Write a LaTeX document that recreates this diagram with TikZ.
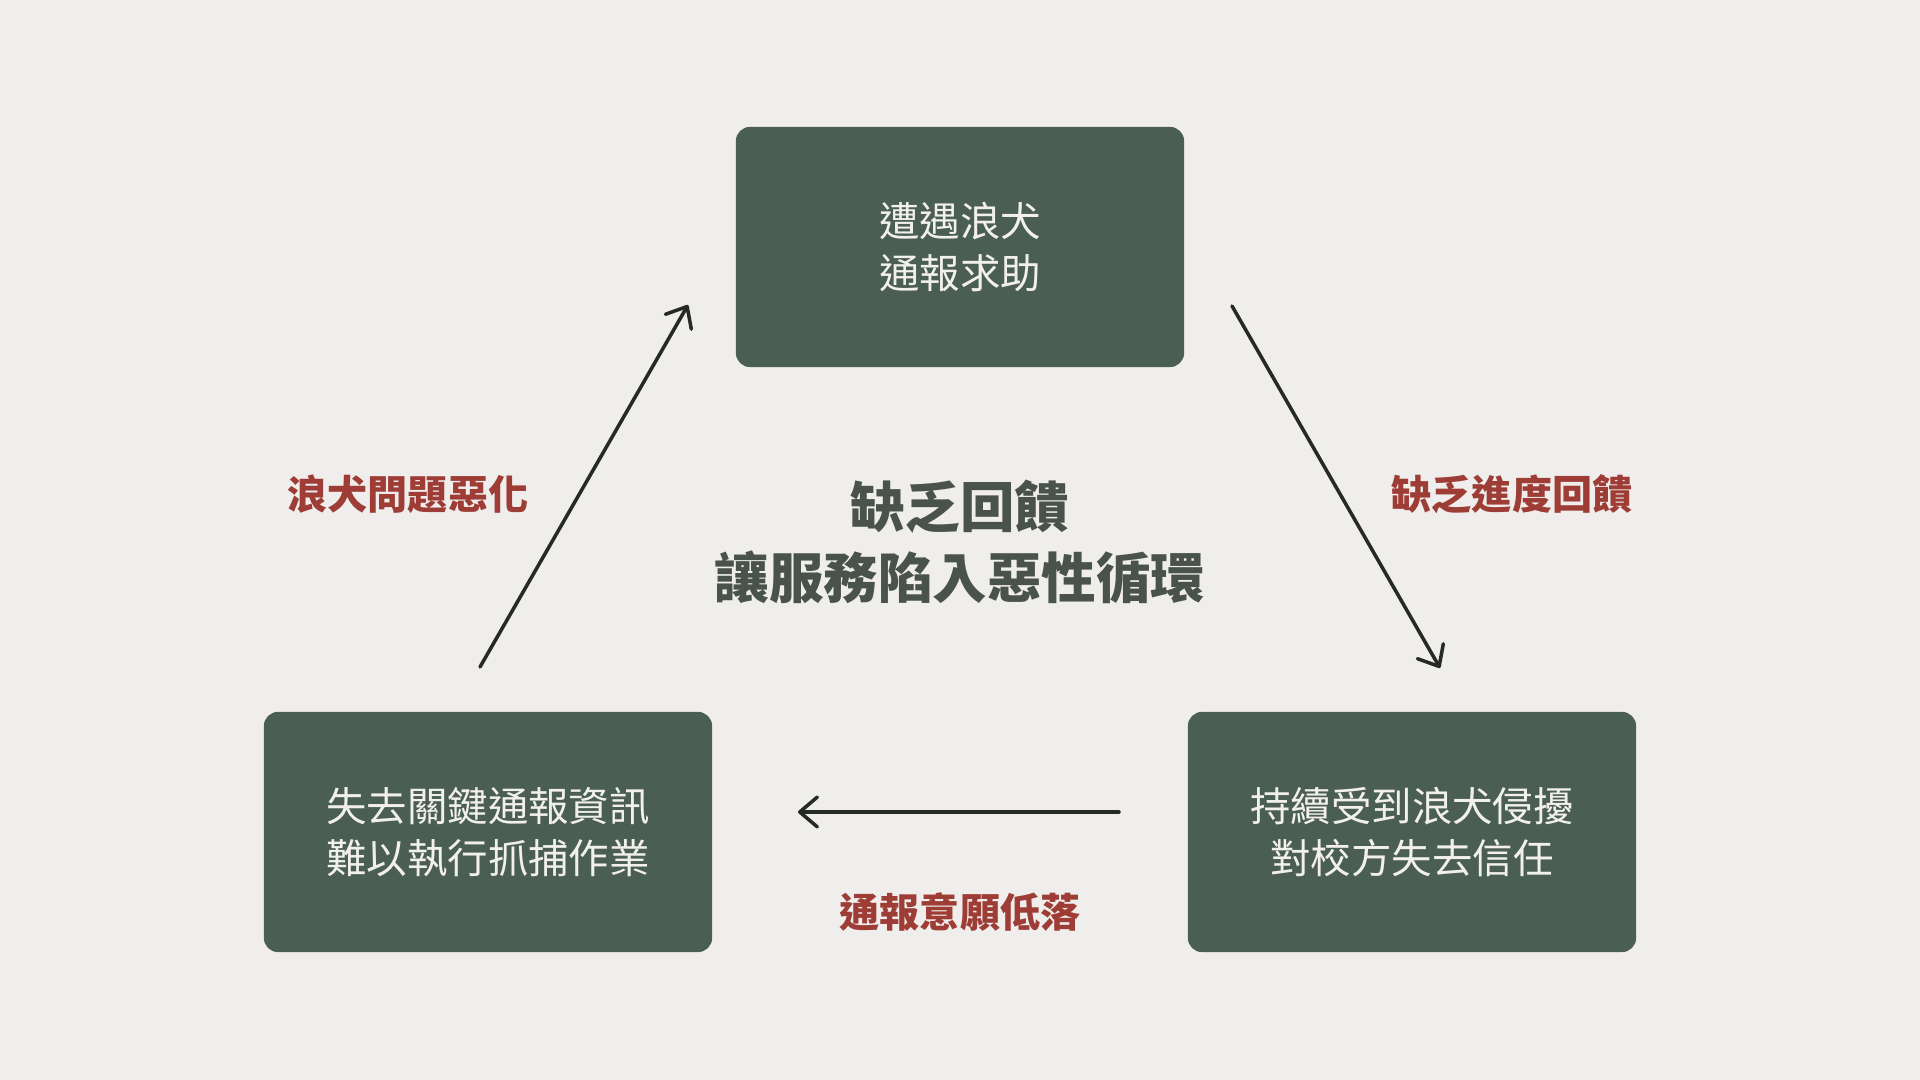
\documentclass[tikz,border=0pt]{standalone}
\usepackage{fontspec}
\setmainfont{Noto Sans CJK TC}
\usepackage{tikz}
\usetikzlibrary{arrows.meta,positioning,calc}
\usepackage{xcolor}

\definecolor{bgc}{HTML}{EFEEEC}
\definecolor{boxc}{HTML}{4B5E53}
\definecolor{boxtxt}{HTML}{F2F0EC}
\definecolor{redc}{HTML}{9E3D36}
\definecolor{titlec}{HTML}{4A524D}
\definecolor{arrc}{HTML}{252A27}

\tikzset{
    stagebox/.style={rectangle, rounded corners=4pt, fill=boxc, text=boxtxt,
        minimum width=4.48cm, minimum height=2.40cm, align=center,
        font=\fontsize{11.5}{14.8}\selectfont},
    causelabel/.style={text=redc, font=\fontsize{11.4}{14}\selectfont\bfseries},
    flowarrow/.style={arrc, line width=1pt, line cap=round,
        -{Straight Barb[length=5pt, width=8.5pt, line width=1pt, round]}}
}

\begin{document}
\begin{tikzpicture}[x=0.01cm, y=-0.01cm]
    % Background
    \path[fill=bgc] (0,0) rectangle (1920,1080);

    % Stages
    \node[stagebox] (report) at (960,247) {遭遇浪犬\\通報求助};
    \node[stagebox] (harass) at (1412,832) {持續受到浪犬侵擾\\對校方失去信任};
    \node[stagebox] (lost) at (488,832) {失去關鍵通報資訊\\難以執行抓捕作業};

    % Center title
    \node[text=titlec, align=center, font=\fontsize{15.5}{20.2}\selectfont\bfseries]
        (title) at (960,542) {缺乏回饋\\讓服務陷入惡性循環};

    % Arrow ends
    \coordinate (a1) at (1232,306);
    \coordinate (b1) at (1440,668);
    \coordinate (a2) at (1119,812);
    \coordinate (b2) at (798,812);
    \coordinate (a3) at (480,667);
    \coordinate (b3) at (688,305);

    \draw[flowarrow] (a1) -- (b1);
    \draw[flowarrow] (a2) -- (b2);
    \draw[flowarrow] (a3) -- (b3);

    % Labels
    \node[causelabel] (nofeedback) at (1512,494) {缺乏進度回饋};
    \node[causelabel] (lowwill) at (960,912) {通報意願低落};
    \node[causelabel] (worse) at (408,494) {浪犬問題惡化};
\end{tikzpicture}
\end{document}
